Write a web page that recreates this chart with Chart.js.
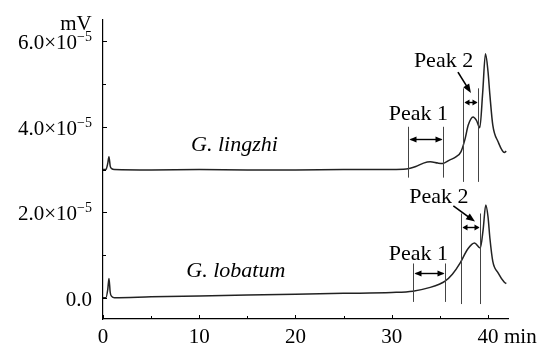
<!doctype html>
<html>

<head>
  <title>Chromatograms</title>
  <script src="https://cdn.jsdelivr.net/npm/chart.js@4.4.0/dist/chart.umd.min.js"></script>
  <style>
    body {
      margin: 0;
      background: #fff;
    }
  </style>
</head>

<body>
<canvas id="canvas" width="547" height="345"></canvas>
<script>
  // retention time (min) and detector signal (x1e-5 mV)
  var lingzhiTime = [0, 0.3, 0.5, 0.62, 0.75, 0.9, 1.2, 5, 10, 15, 20, 25, 30, 31.5, 32.5, 33.3, 34, 34.8, 35.3, 36, 36.7, 37.2, 37.6, 37.95, 38.45, 38.8, 39.15, 39.45, 39.74, 40.0, 40.2, 40.5, 41.05, 41.7, 41.9];
  var lingzhiSignal = [3.0, 3.0, 3.15, 3.3, 3.08, 3.02, 3.0, 2.99, 3.0, 2.99, 2.99, 3.0, 3.0, 3.01, 3.07, 3.15, 3.18, 3.15, 3.14, 3.22, 3.3, 3.42, 3.7, 4.04, 4.23, 4.15, 3.98, 4.8, 5.71, 5.3, 4.74, 4.04, 3.65, 3.4, 3.43];

  var lobatumTime = [0, 0.3, 0.5, 0.62, 0.75, 0.9, 1.2, 5, 10, 15, 20, 25, 30, 32.2, 34, 35, 35.5, 36.3, 37.1, 37.9, 38.6, 39.2, 39.5, 39.77, 40.0, 40.2, 40.5, 41.05, 41.7, 41.9];
  var lobatumSignal = [0.0, 0.0, 0.2, 0.45, 0.12, 0.03, 0.0, 0.02, 0.04, 0.06, 0.08, 0.1, 0.12, 0.15, 0.24, 0.32, 0.38, 0.55, 0.81, 1.14, 1.28, 1.16, 1.6, 2.17, 1.9, 1.39, 0.85, 0.58, 0.36, 0.33];

  var xTicks = [0, 10, 20, 30, 40];
  var xTickLabels = ['0', '10', '20', '30', '40'];
  var yTicks = [0, 2, 4, 6];
  var yTickLabels = ['0.0', '2.0×10', '4.0×10', '6.0×10'];
  var yTickPowers = ['', '−5', '−5', '−5'];

  // peak windows (min)
  var peakNames = ['Peak 1', 'Peak 2'];
  var lingzhiWindows = [[31.66, 35.32], [37.45, 39.0]];
  var lobatumWindows = [[32.24, 35.53], [37.16, 39.22]];

  var SCALE = 1e-5;

  function toPoints(t, v) {
    return t.map(function (x, i) {
      return {x: x, y: v[i] * SCALE};
    });
  }

  // where the peak marks sit, in data units (x: min, y: x1e-5 mV)
  var traces = [{
    name: 'G. lingzhi',
    nameAt: [13.66, 3.44],
    windows: lingzhiWindows,
    lineTop: [4.0, 4.9],
    lineBottom: [2.81, 2.71],
    arrowY: [3.71, 4.59],
    labelAt: [[32.76, 4.16], [35.38, 5.41]],
    pointer: [null, [[36.88, 5.28], [38.23, 4.79]]]
  }, {
    name: 'G. lobatum',
    nameAt: [13.8, 0.48],
    windows: lobatumWindows,
    lineTop: [0.80, 1.97],
    lineBottom: [-0.1, -0.15],
    arrowY: [0.57, 1.65],
    labelAt: [[32.76, 0.88], [34.9, 2.21]],
    pointer: [null, [[36.4, 2.15], [38.65, 1.78]]]
  }];

  var SERIF = '"Liberation Serif", "Times New Roman", serif';

  function arrowHead(ctx, x, y, angle, len, half) {
    var c = Math.cos(angle), s = Math.sin(angle);
    ctx.beginPath();
    ctx.moveTo(x, y);
    ctx.lineTo(x - len * c + half * s, y - len * s - half * c);
    ctx.lineTo(x - len * c - half * s, y - len * s + half * c);
    ctx.closePath();
    ctx.fill();
  }

  var decorations = {
    id: 'decorations',
    afterDraw: function (chart) {
      var ctx = chart.ctx;
      var xs = chart.scales.x, ys = chart.scales.y;
      var area = chart.chartArea;
      var px = function (v) { return xs.getPixelForValue(v); };
      var py = function (v) { return ys.getPixelForValue(v * SCALE); };

      ctx.save();
      ctx.strokeStyle = '#000';
      ctx.fillStyle = '#000';
      ctx.lineWidth = 1;

      // inward ticks
      ctx.beginPath();
      for (var t = 0; t <= 40; t += 5) {
        var x = Math.round(px(t)) + 0.5;
        ctx.moveTo(x, area.bottom);
        ctx.lineTo(x, area.bottom - (t % 10 === 0 ? 4 : 3));
      }
      for (var v = 0; v <= 6; v += 1) {
        var y = Math.round(py(v)) + 0.5;
        ctx.moveTo(area.left, y);
        ctx.lineTo(area.left + (v % 2 === 0 ? 4 : 3), y);
      }
      ctx.stroke();

      // tick labels
      ctx.font = '21px ' + SERIF;
      ctx.textBaseline = 'alphabetic';
      ctx.textAlign = 'center';
      xTicks.forEach(function (t, i) {
        ctx.fillText(xTickLabels[i], px(t), area.bottom + 24);
      });
      ctx.textAlign = 'left';
      ctx.fillText('min', px(40) + 16, area.bottom + 24);

      var right = area.left - 11;
      yTicks.forEach(function (v, i) {
        var base = py(v) + 8;
        ctx.font = '14px ' + SERIF;
        var supW = yTickPowers[i] ? ctx.measureText(yTickPowers[i]).width : 0;
        if (supW) {
          ctx.textAlign = 'left';
          ctx.fillText(yTickPowers[i], right - supW, base - 8);
        }
        ctx.font = '21px ' + SERIF;
        ctx.textAlign = 'right';
        ctx.fillText(yTickLabels[i], right - supW, base);
      });
      ctx.textAlign = 'center';
      ctx.fillText('mV', area.left - 27, area.top + 10);

      // trace names and peak windows
      traces.forEach(function (tr) {
        ctx.font = 'italic 22px ' + SERIF;
        ctx.textAlign = 'center';
        ctx.fillStyle = '#000';
        ctx.fillText(tr.name, px(tr.nameAt[0]), py(tr.nameAt[1]));

        tr.windows.forEach(function (w, k) {
          var x0 = Math.round(px(w[0])) + 0.5, x1 = Math.round(px(w[1])) + 0.5;
          var top = py(tr.lineTop[k]), bot = py(tr.lineBottom[k]);
          ctx.strokeStyle = '#444';
          ctx.lineWidth = 1;
          ctx.beginPath();
          ctx.moveTo(x0, top); ctx.lineTo(x0, bot);
          ctx.moveTo(x1, top); ctx.lineTo(x1, bot);
          ctx.stroke();

          // double headed arrow
          var ay = Math.round(py(tr.arrowY[k])) + 0.5;
          var head = (x1 - x0) > 25 ? 7 : 5;
          ctx.strokeStyle = '#000';
          ctx.fillStyle = '#000';
          ctx.lineWidth = 1.4;
          ctx.beginPath();
          ctx.moveTo(x0 + 2, ay); ctx.lineTo(x1 - 2, ay);
          ctx.stroke();
          arrowHead(ctx, x1 - 1, ay, 0, head, 3);
          arrowHead(ctx, x0 + 1, ay, Math.PI, head, 3);

          ctx.font = '22px ' + SERIF;
          ctx.textAlign = 'center';
          ctx.fillText(peakNames[k], px(tr.labelAt[k][0]), py(tr.labelAt[k][1]));

          var p = tr.pointer[k];
          if (p) {
            var sx = px(p[0][0]), sy = py(p[0][1]);
            var ex = px(p[1][0]), ey = py(p[1][1]);
            var ang = Math.atan2(ey - sy, ex - sx);
            ctx.lineWidth = 1.6;
            ctx.beginPath();
            ctx.moveTo(sx, sy);
            ctx.lineTo(ex - 6 * Math.cos(ang), ey - 6 * Math.sin(ang));
            ctx.stroke();
            arrowHead(ctx, ex, ey, ang, 9, 3.5);
          }
        });
      });
      ctx.restore();
    }
  };

  window.onload = function () {
    var ctx = document.getElementById('canvas').getContext('2d');
    window.myChart = new Chart(ctx, {
      type: 'line',
      data: {
        datasets: [{
          label: 'G. lingzhi',
          data: toPoints(lingzhiTime, lingzhiSignal),
          borderColor: '#222',
          borderWidth: 1.5,
          pointRadius: 0,
          fill: false,
          cubicInterpolationMode: 'monotone'
        }, {
          label: 'G. lobatum',
          data: toPoints(lobatumTime, lobatumSignal),
          borderColor: '#222',
          borderWidth: 1.5,
          pointRadius: 0,
          fill: false,
          cubicInterpolationMode: 'monotone'
        }]
      },
      options: {
        responsive: false,
        animation: false,
        layout: {
          padding: {left: 103, right: 39, top: 20, bottom: 26}
        },
        plugins: {
          legend: {display: false},
          tooltip: {enabled: false}
        },
        scales: {
          x: {
            type: 'linear',
            min: 0,
            max: 42.08,
            grid: {display: false},
            ticks: {display: false},
            border: {display: true, color: '#000', width: 1.2},
            afterFit: function (scale) { scale.height = 0; }
          },
          y: {
            min: -0.5 * SCALE,
            max: 6.5 * SCALE,
            grid: {display: false},
            ticks: {display: false},
            border: {display: true, color: '#000', width: 1.2},
            afterFit: function (scale) { scale.width = 0; }
          }
        }
      },
      plugins: [decorations]
    });
  };
</script>
</body>

</html>
